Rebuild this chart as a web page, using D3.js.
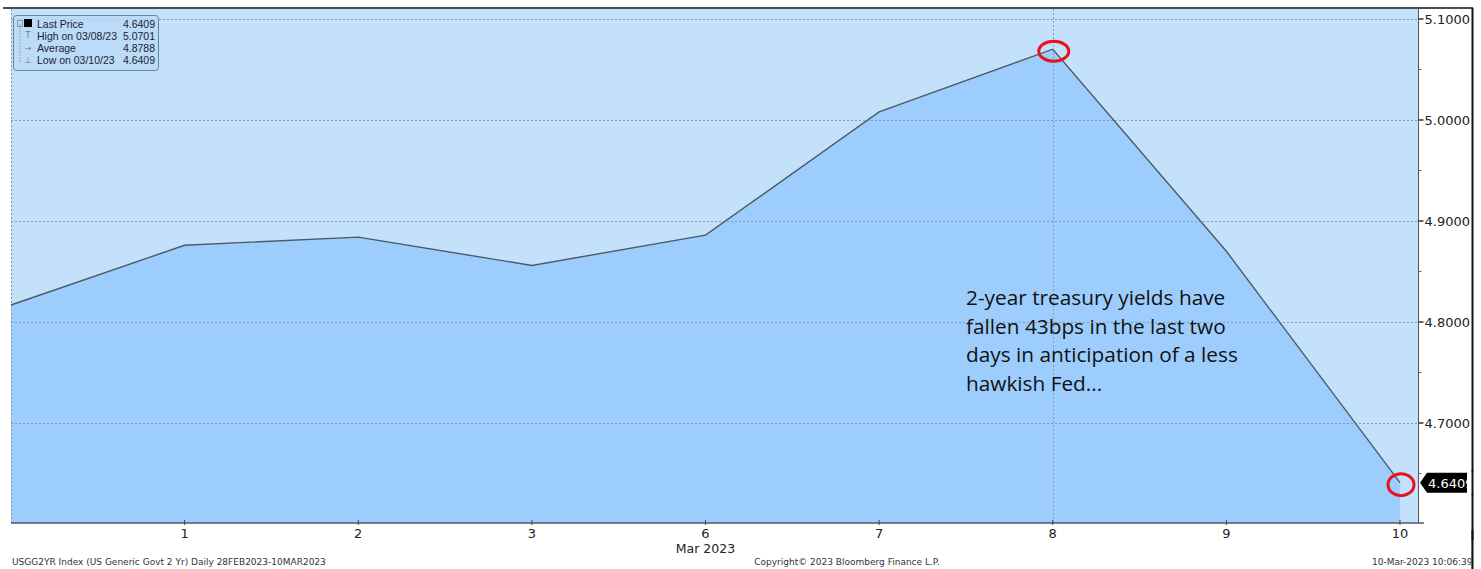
<!DOCTYPE html>
<html>
<head>
<meta charset="utf-8">
<script src="https://cdn.jsdelivr.net/npm/d3@7"></script>
<style>
body{margin:0;background:#fff;}
svg{display:block;}
</style>
</head>
<body>
<div id="chart"></div>
<script>
// chart data
var dayLabels = ["", "1", "2", "3", "6", "7", "8", "9", "10"];
var yields = [4.8168, 4.8760, 4.8840, 4.8560, 4.8860, 5.0080, 5.0701, 4.8700, 4.6409];
var yTicks = [4.7, 4.8, 4.9, 5.0, 5.1];
var yMinorTicks = [4.65, 4.75, 4.85, 4.95, 5.05];
var legendRows = [["Last Price", "4.6409"], ["High on 03/08/23", "5.0701"], ["Average", "4.8788"], ["Low on 03/10/23", "4.6409"]];
var noteLines = ["2-year treasury yields have", "fallen 43bps in the last two", "days in anticipation of a less", "hawkish Fed..."];

document.addEventListener('DOMContentLoaded', function(){
    var width = 1481, height = 569;
    var left = 11, right = 1418, top = 9, bottom = 523;
    var lastX = 1400;

    var svg = d3.select("#chart").append("svg")
        .attr("width", width)
        .attr("height", height);

    var x = d3.scalePoint().domain(d3.range(yields.length)).range([left, lastX]);
    var y = d3.scaleLinear().domain([4.6, 5.1]).range([524, 19]);

    // plot background
    svg.append('rect').attr('x', left).attr('y', top).attr('width', right - left).attr('height', bottom - top)
        .attr('fill', '#c4e1fc');

    // area
    var area = d3.area().x(function(d,i){return x(i);}).y0(bottom).y1(function(d){return y(d);});
    svg.append('path').datum(yields).attr('d', area).attr('fill', '#9dcdfd');

    // grid
    var grid = svg.append('g').attr('stroke', '#8a9aac').attr('stroke-width', 1).attr('stroke-dasharray', '2,2');
    grid.selectAll('line.h').data(yTicks).enter().append('line')
        .attr('x1', left).attr('x2', right)
        .attr('y1', function(d){return Math.round(y(d)) + 0.5;})
        .attr('y2', function(d){return Math.round(y(d)) + 0.5;});
    grid.append('line').attr('x1', Math.round(x(6)) + 0.5).attr('x2', Math.round(x(6)) + 0.5)
        .attr('y1', top).attr('y2', bottom);
    grid.append('line').attr('x1', left + 0.5).attr('x2', left + 0.5).attr('y1', top).attr('y2', bottom);

    // price line
    var line = d3.line().x(function(d,i){return x(i);}).y(function(d){return y(d);});
    svg.append('path').datum(yields).attr('d', line).attr('fill', 'none')
        .attr('stroke', '#4d5a66').attr('stroke-width', 1.4);

    // right axis
    var yAxis = svg.append('g').attr('transform', 'translate(' + (right + 0.5) + ',0)');
    yAxis.append('line').attr('y1', top).attr('y2', bottom).attr('stroke', '#555');
    yAxis.selectAll('line.t').data(yTicks).enter().append('line')
        .attr('x1', 0).attr('x2', 5).attr('y1', function(d){return y(d);}).attr('y2', function(d){return y(d);})
        .attr('stroke', '#333').attr('stroke-width', 1.5);
    yAxis.selectAll('line.m').data(yMinorTicks).enter().append('line')
        .attr('x1', 0).attr('x2', 3).attr('y1', function(d){return y(d);}).attr('y2', function(d){return y(d);})
        .attr('stroke', '#666');
    yAxis.selectAll('text').data(yTicks).enter().append('text')
        .attr('x', 6).attr('y', function(d){return y(d) + 5;})
        .attr('font-family', 'DejaVu Sans').attr('font-size', 13).attr('fill', '#222')
        .text(function(d){return d.toFixed(4);});

    // bottom axis
    var xAxis = svg.append('g').attr('transform', 'translate(0,' + bottom + ')');
    xAxis.append('line').attr('x1', left).attr('x2', right + 6).attr('stroke', '#556').attr('stroke-width', 1.6);
    xAxis.selectAll('line.t').data(d3.range(1, yields.length)).enter().append('line')
        .attr('x1', function(d){return x(d);}).attr('x2', function(d){return x(d);})
        .attr('y1', -3).attr('y2', 2).attr('stroke', '#444');
    xAxis.selectAll('text').data(d3.range(1, yields.length)).enter().append('text')
        .attr('x', function(d){return x(d);}).attr('y', 15)
        .attr('text-anchor', 'middle').attr('font-family', 'DejaVu Sans').attr('font-size', 13).attr('fill', '#222')
        .text(function(d){return dayLabels[d];});
    xAxis.append('text').attr('x', x(4)).attr('y', 30).attr('text-anchor', 'middle')
        .attr('font-family', 'DejaVu Sans').attr('font-size', 12.5).attr('fill', '#222').text('Mar 2023');

    // frame
    svg.append('line').attr('x1', 3).attr('x2', 1473).attr('y1', 8).attr('y2', 8).attr('stroke', '#111').attr('stroke-width', 1.5);
    svg.append('line').attr('x1', 1472.5).attr('x2', 1472.5).attr('y1', 8).attr('y2', height).attr('stroke', '#111').attr('stroke-width', 2);
    svg.append('rect').attr('x', 1474).attr('y', 0).attr('width', 10).attr('height', height).attr('fill', '#fff');

    // last price tag
    var ly = y(yields[yields.length - 1]);
    svg.append('path')
        .attr('d', 'M1420,' + ly + 'L1427,' + (ly - 10) + 'L1467,' + (ly - 10) + 'L1467,' + (ly + 10) + 'L1427,' + (ly + 10) + 'Z')
        .attr('fill', '#000');
    svg.append('text').attr('x', 1428).attr('y', ly + 5)
        .attr('font-family', 'DejaVu Sans').attr('font-size', 13).attr('fill', '#fff').text(yields[yields.length - 1].toFixed(4));
    svg.append('rect').attr('x', 1467).attr('y', ly - 11).attr('width', 16).attr('height', 22).attr('fill', '#fff');
    svg.append('line').attr('x1', 1472.5).attr('x2', 1472.5).attr('y1', ly - 12).attr('y2', ly + 12).attr('stroke', '#111').attr('stroke-width', 2);

    // red circles on high and last
    var hi = d3.maxIndex(yields);
    [[hi, 15, 10], [yields.length - 1, 13, 11]].forEach(function(c){
        svg.append('ellipse').attr('cx', x(c[0]) + 1).attr('cy', y(yields[c[0]]) + 2)
            .attr('rx', c[1]).attr('ry', c[2]).attr('fill', 'none').attr('stroke', '#e8121b').attr('stroke-width', 3);
    });

    // annotation
    var note = svg.append('text').attr('font-family', 'Open Sans').attr('font-size', 20.8).attr('fill', '#111');
    note.selectAll('tspan').data(noteLines).enter().append('tspan')
        .attr('x', 966).attr('y', function(d,i){return 305 + i * 28.7;}).text(function(d){return d;});

    // legend
    var lg = svg.append('g').attr('transform', 'translate(13,15)');
    lg.append('rect').attr('x', 0.5).attr('y', 0.5).attr('width', 145).attr('height', 55).attr('rx', 3)
        .attr('fill', '#b9daf8').attr('fill-opacity', 0.8).attr('stroke', '#6f8396');
    lg.append('line').attr('x1', 7).attr('x2', 7).attr('y1', 9).attr('y2', 47).attr('stroke', '#9ab').attr('stroke-dasharray', '2,1');
    lg.append('rect').attr('x', 4.5).attr('y', 5.5).attr('width', 5).attr('height', 6).attr('fill', 'none').attr('stroke', '#89a');
    lg.append('rect').attr('x', 11).attr('y', 4).attr('width', 8).attr('height', 8).attr('fill', '#000');
    var markers = ['', 'T', '\u2192', '\u22a5'];
    lg.selectAll('text.m').data(markers).enter().append('text')
        .attr('x', 15).attr('y', function(d,i){return 11 + i * 12.3;}).attr('text-anchor', 'middle')
        .attr('font-family', 'DejaVu Sans').attr('font-size', 8).attr('fill', '#778')
        .text(function(d){return d;});
    lg.selectAll('text.l').data(legendRows).enter().append('text')
        .attr('x', 24).attr('y', function(d,i){return 12.5 + i * 12.3;})
        .attr('font-family', 'Liberation Sans').attr('font-size', 10.5).attr('fill', '#223')
        .text(function(d){return d[0];});
    lg.selectAll('text.v').data(legendRows).enter().append('text')
        .attr('x', 142).attr('y', function(d,i){return 12.5 + i * 12.3;}).attr('text-anchor', 'end')
        .attr('font-family', 'Liberation Sans').attr('font-size', 10.5).attr('fill', '#223')
        .text(function(d){return d[1];});

    // footer
    var foot = svg.append('g').attr('font-family', 'DejaVu Sans').attr('font-size', 9).attr('fill', '#333');
    foot.append('text').attr('x', 12).attr('y', 565).text('USGG2YR Index (US Generic Govt 2 Yr)  Daily 28FEB2023-10MAR2023');
    foot.append('text').attr('x', 847).attr('y', 565).attr('text-anchor', 'middle').text('Copyright\u00a9 2023 Bloomberg Finance L.P.');
    foot.append('text').attr('x', 1372).attr('y', 565).text('10-Mar-2023 10:06:39');
    svg.append('rect').attr('x', 1471.5).attr('y', 540).attr('width', 12).attr('height', 29).attr('fill', '#fff');
    svg.append('line').attr('x1', 1472.5).attr('x2', 1472.5).attr('y1', 530).attr('y2', height).attr('stroke', '#111').attr('stroke-width', 2);
});
</script>
</body>
</html>
